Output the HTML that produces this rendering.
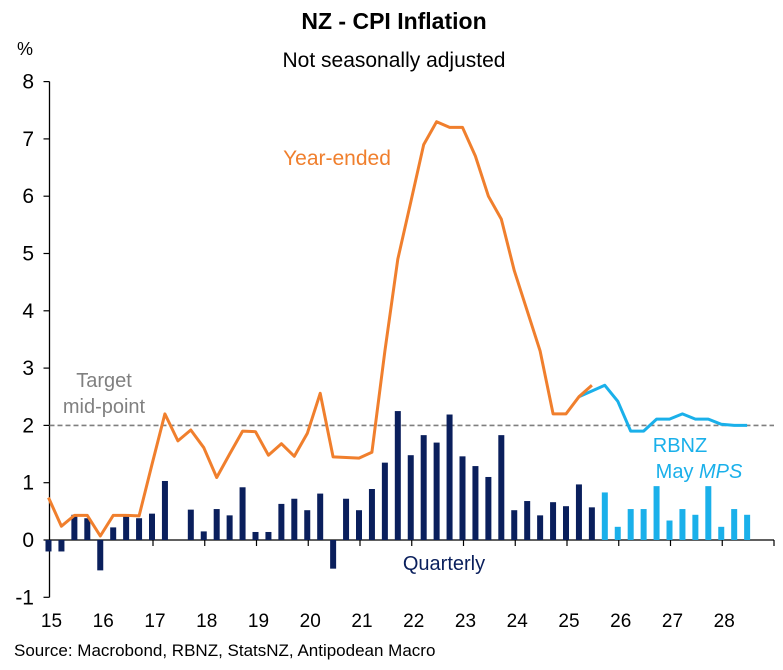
<!DOCTYPE html>
<html><head><meta charset="utf-8"><style>
body{margin:0;background:#fff;}
svg{display:block;font-family:"Liberation Sans",Arial,sans-serif;}
</style></head><body>
<svg id="chart" width="783" height="670" viewBox="0 0 783 670">
<text x="394" y="29" text-anchor="middle" font-size="23" font-weight="bold">NZ - CPI Inflation</text>
<text x="394" y="67" text-anchor="middle" font-size="21">Not seasonally adjusted</text>
<text x="17" y="55" font-size="18">%</text>
<g id="axes"></g>
<g id="bars"></g>
<g id="lines"></g>
<text x="337" y="165" text-anchor="middle" font-size="21" fill="#F07F2D">Year-ended</text>
<text x="104" y="387" text-anchor="middle" font-size="20" fill="#808080">Target</text>
<text x="104" y="413" text-anchor="middle" font-size="20" fill="#808080">mid-point</text>
<text x="444" y="570" text-anchor="middle" font-size="20" fill="#0A1F5C">Quarterly</text>
<text x="680" y="452" text-anchor="middle" font-size="20" fill="#1AB0EA">RBNZ</text>
<text x="699" y="478" text-anchor="middle" font-size="20" fill="#1AB0EA">May <tspan font-style="italic">MPS</tspan></text>
<text x="14" y="656" font-size="17">Source: Macrobond, RBNZ, StatsNZ, Antipodean Macro</text>
</svg>
<script>
const yTicks=[-1,0,1,2,3,4,5,6,7,8];
const xYears=[15,16,17,18,19,20,21,22,23,24,25,26,27,28];
const targetValue=2;
// quarterly actual, starting 2014Q4
const quarterlyActual=[-0.2,-0.2,0.44,0.38,-0.53,0.22,0.42,0.38,0.46,1.03,0,0.53,0.15,0.54,0.43,0.92,0.14,0.14,0.63,0.72,0.52,0.81,-0.5,0.72,0.52,0.89,1.35,2.25,1.48,1.83,1.70,2.19,1.46,1.29,1.10,1.83,0.52,0.68,0.43,0.66,0.59,0.97,0.57];
// quarterly forecast, starting 2025Q3
const quarterlyForecast=[0.83,0.23,0.54,0.54,0.94,0.34,0.54,0.44,0.94,0.23,0.54,0.44];
// year-ended actual, starting 2014Q4
const yearEndedActual=[0.74,0.24,0.43,0.43,0.07,0.43,0.43,0.42,1.32,2.2,1.73,1.92,1.61,1.09,1.5,1.9,1.89,1.48,1.68,1.46,1.86,2.56,1.45,1.44,1.43,1.53,3.3,4.9,5.9,6.9,7.3,7.2,7.2,6.7,6.0,5.6,4.7,4.0,3.3,2.2,2.2,2.5,2.7];
// year-ended forecast, starting 2025Q1
const yearEndedForecast=[2.5,2.6,2.7,2.42,1.9,1.9,2.11,2.11,2.2,2.11,2.11,2.02,2.0,2.0];

const NS="http://www.w3.org/2000/svg";
const X0=49.5,YW=51.75;
const xs=t=>X0+(t-15)*YW;
const ys=v=>540-v*57.3;
function mk(tag,attrs,parent){const e=document.createElementNS(NS,tag);for(const k in attrs)e.setAttribute(k,attrs[k]);parent.appendChild(e);return e;}
const axes=document.getElementById('axes'),bars=document.getElementById('bars'),lines=document.getElementById('lines');

let e=mk('line',{x1:X0,y1:ys(8),x2:X0,y2:ys(-1),stroke:'#000','stroke-width':1.3},axes);


yTicks.forEach(v=>{
  let t=mk('line',{x1:X0-6,y1:ys(v),x2:X0,y2:ys(v),stroke:'#000','stroke-width':1.2},axes);
  
  
  let l=mk('text',{x:34,y:ys(v)+7,'text-anchor':'end','font-size':21},axes);
  l.textContent=v;
  
  
});
e=mk('line',{x1:X0,y1:ys(0),x2:xs(29),y2:ys(0),stroke:'#000','stroke-width':1.3},axes);


for(let yr=15;yr<=29;yr++){
  let t=mk('line',{x1:xs(yr),y1:ys(0),x2:xs(yr),y2:ys(0)+6,stroke:'#000','stroke-width':1.2},axes);
  
  
}
xYears.forEach(yr=>{
  let l=mk('text',{x:xs(yr)+2,y:627,'text-anchor':'middle','font-size':19},axes);
  l.textContent=yr;
  
  
});
e=mk('line',{x1:X0,y1:ys(targetValue),x2:xs(29),y2:ys(targetValue),stroke:'#7f7f7f','stroke-width':1.6,'stroke-dasharray':'5,3'},axes);



function drawBars(arr,start,color,name){
  arr.forEach((v,i)=>{
    const cx=xs(start+i*0.25)-1;
    const y0=ys(0),y1=ys(v);
    let b=mk('rect',{x:cx-3,y:Math.min(y0,y1),width:6,height:Math.max(Math.abs(y1-y0),0.01),fill:color},bars);
    
    
  });
}
drawBars(quarterlyActual,15.0,'#0A1F5C','quarterly-bar');
drawBars(quarterlyForecast,25.75,'#1AB0EA','quarterly-forecast-bar');

function drawLine(arr,start,color,name){
  const pts=arr.map((v,i)=>(xs(start+i*0.25)-1).toFixed(1)+','+ys(v).toFixed(1)).join(' ');
  let p=mk('polyline',{points:pts,fill:'none',stroke:color,'stroke-width':3,'stroke-linejoin':'round'},lines);
  
  
}
drawLine(yearEndedForecast,25.25,'#1AB0EA','year-ended-forecast-line');
drawLine(yearEndedActual,15.0,'#F07F2D','year-ended-line');
</script>
</body></html>
